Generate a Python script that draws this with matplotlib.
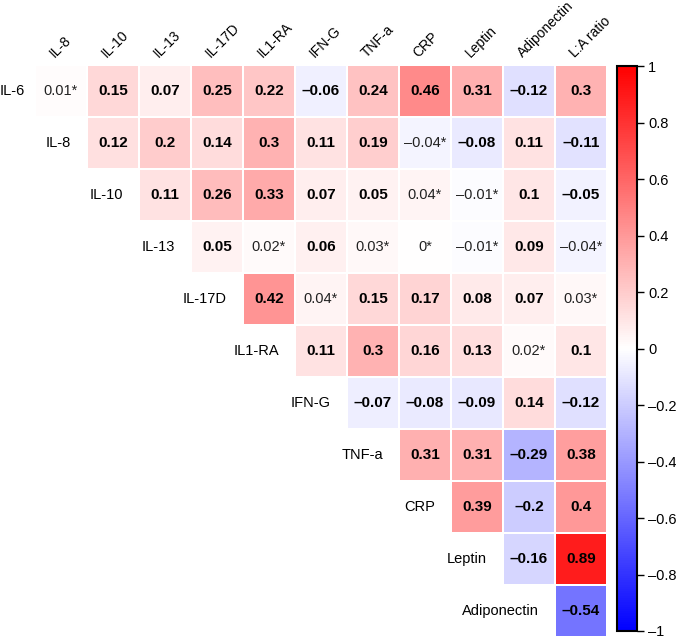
import numpy as np
import matplotlib
matplotlib.use('Agg')
import matplotlib.pyplot as plt
from matplotlib.colors import LinearSegmentedColormap

plt.rcParams['font.family'] = ['Liberation Sans', 'DejaVu Sans']

#Labels
row_labels = ['IL-6','IL-8','IL-10','IL-13','IL-17D','IL1-RA','IFN-G','TNF-a','CRP','Leptin','Adiponectin']
col_labels = ['IL-8','IL-10','IL-13','IL-17D','IL1-RA','IFN-G','TNF-a','CRP','Leptin','Adiponectin','L:A ratio']

#Upper triangle correlations, one list per row (starting at the diagonal)
r_il6   = [0.01, 0.15, 0.07, 0.25, 0.22, -0.06, 0.24, 0.46, 0.31, -0.12, 0.3]
r_il8   = [0.12, 0.2, 0.14, 0.3, 0.11, 0.19, -0.04, -0.08, 0.11, -0.11]
r_il10  = [0.11, 0.26, 0.33, 0.07, 0.05, 0.04, -0.01, 0.1, -0.05]
r_il13  = [0.05, 0.02, 0.06, 0.03, 0.0, -0.01, 0.09, -0.04]
r_il17d = [0.42, 0.04, 0.15, 0.17, 0.08, 0.07, 0.03]
r_il1ra = [0.11, 0.3, 0.16, 0.13, 0.02, 0.1]
r_ifng  = [-0.07, -0.08, -0.09, 0.14, -0.12]
r_tnfa  = [0.31, 0.31, -0.29, 0.38]
r_crp   = [0.39, -0.2, 0.4]
r_lep   = [-0.16, 0.89]
r_adipo = [-0.54]
rows = [r_il6, r_il8, r_il10, r_il13, r_il17d, r_il1ra, r_ifng, r_tnfa, r_crp, r_lep, r_adipo]

#Non-significant cells (row, column), drawn as plain text with asterisk
nonsig = [(0,0),(1,7),(2,7),(2,8),(3,4),(3,6),(3,7),(3,8),(3,10),(4,5),(4,10),(5,9)]

n = len(row_labels)
data = np.full([n,n], np.nan)
for i in range(n):
    data[i,i:] = rows[i]
data = np.ma.masked_invalid(data)

cmap = LinearSegmentedColormap.from_list('bwr2', ['#0000ff','#ffffff','#ff0000'])

W, H = 676, 640
fig = plt.figure(figsize=(W/100, H/100), dpi=100)
ax = fig.add_axes([35/W, (H-637)/H, 572/W, 572/H])
mesh = ax.pcolormesh(np.arange(n+1), np.arange(n+1), data, cmap=cmap, vmin=-1, vmax=1,
                     edgecolor='white', linewidth=0.2)
ax.set_xlim(0, n)
ax.set_ylim(n, 0)
ax.axis('off')

def fmt(v):
    s = ('%.2f' % abs(v)).rstrip('0').rstrip('.')
    if s == '':
        s = '0'
    return ('\u2013' if v < 0 else '') + s

for i in range(n):
    for j in range(i, n):
        v = data[i,j]
        if (i,j) in nonsig:
            ax.text(j+0.5, i+0.5, fmt(v)+'*', ha='center', va='center', fontsize=10.5, color='#222222')
        else:
            ax.text(j+0.5, i+0.5, fmt(v), ha='center', va='center', fontsize=11, fontweight='bold', color='black')
    #row label sits just left of the first cell
    xl = i - 0.31 if i > 0 else -0.2
    ax.text(xl, i+0.5, row_labels[i], ha='right', va='center', fontsize=10.5, clip_on=False)

for j in range(n):
    ax.text(j+0.42, -0.1, col_labels[j], ha='left', va='bottom', rotation=45,
            rotation_mode='anchor', fontsize=10, clip_on=False)

#Colorbar
cax = fig.add_axes([617/W, (H-631)/H, 20/W, 565/H])
cb = fig.colorbar(mesh, cax=cax)
ticks = np.arange(-1, 1.01, 0.2)
cb.set_ticks(ticks)
cb.set_ticklabels([fmt(round(t,1)) for t in ticks])
cb.outline.set_linewidth(1.5)
cax.tick_params(length=5, width=1, labelsize=10.5, pad=3)

fig.savefig('out.png', dpi=100)
